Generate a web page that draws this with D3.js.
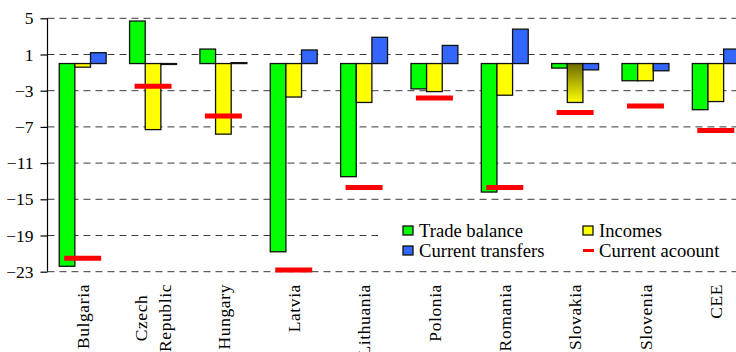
<!DOCTYPE html>
<html>
<head>
<meta charset="utf-8">
<script src="https://cdn.jsdelivr.net/npm/d3@7"></script>
<style>
  body { margin: 0; background: #fff; }
</style>
</head>
<body>
<div id="chart"></div>
<script>
// Data
const countries = [["Bulgaria"], ["Czech", "Republic"], ["Hungary"], ["Latvia"], ["Lithuania"],
  ["Polonia"], ["Romania"], ["Slovakia"], ["Slovenia"], ["CEE"]];
const tradeBalance = [-22.4, 4.7, 1.6, -20.8, -12.5, -2.8, -14.2, -0.5, -1.9, -5.1];
const incomes = [-0.4, -7.3, -7.8, -3.7, -4.3, -3.1, -3.5, -4.3, -1.9, -4.2];
const currentTransfers = [1.2, -0.1, 0.1, 1.5, 2.9, 2.0, 3.8, -0.7, -0.8, 1.6];
const currentAccount = [-21.5, -2.5, -5.8, -22.8, -13.7, -3.8, -13.7, -5.4, -4.7, -7.4];
const yTicks = [5, 1, -3, -7, -11, -15, -19, -23];
const seriesNames = ["Trade balance", "Incomes", "Current transfers", "Current acoount"];

/** Layout */
const width = 736, height = 352;
const plot = { left: 47.5, right: 751, top: 18.3, bottom: 271.7 };
const colors = { trade: "#00ff00", incomes: "#ffff00", transfers: "#3366ff", account: "#ff0000" };
const font = "'Liberation Serif'";
const fontSize = "17.5px";

const svg = d3.select("#chart").append("svg")
  .attr("width", width)
  .attr("height", height)
  .style("display", "block")
  .style("font-family", font);

const defs = svg.append("defs");
// Slovakia's income bar is shaded olive -> yellow in the original
const grad = defs.append("linearGradient")
  .attr("id", "olive-yellow")
  .attr("x1", 0).attr("y1", 0).attr("x2", 0).attr("y2", 1);
grad.append("stop").attr("offset", "0%").attr("stop-color", "#6b6b00");
grad.append("stop").attr("offset", "100%").attr("stop-color", "#ffff00");

const keys = countries.map((d, i) => i);

const x = d3.scaleBand()
  .domain(keys)
  .range([plot.left, plot.right])
  .paddingInner(0.333)
  .paddingOuter(0.1667);

const xSub = d3.scaleBand()
  .domain([0, 1, 2])
  .range([0, x.bandwidth()]);

const y = d3.scaleLinear()
  .domain([-23, 5])
  .range([plot.bottom, plot.top]);

/** Gridlines */
svg.append("g")
  .attr("class", "grid")
  .selectAll("line")
  .data(yTicks)
  .enter()
  .append("line")
  .attr("x1", plot.left)
  .attr("x2", width)
  .attr("y1", d => y(d))
  .attr("y2", d => y(d))
  .attr("stroke", "#3a3a3a")
  .attr("stroke-width", 1)
  .attr("stroke-dasharray", "7,5");

/** Y axis */
const yAxis = d3.axisLeft(y)
  .tickValues(yTicks)
  .tickSize(7)
  .tickPadding(7)
  .tickFormat(d3.format("d"));

const yG = svg.append("g")
  .attr("transform", "translate(" + plot.left + ",0)")
  .call(yAxis)
  .attr("font-family", null)
  .attr("font-size", null);
yG.select("path.domain")
  .attr("d", "M0," + y(5) + "V" + y(-23))
  .attr("stroke", "#000")
  .attr("stroke-width", 1.2);
yG.selectAll(".tick line").attr("stroke", "#000").attr("stroke-width", 1.2);
yG.selectAll(".tick text")
  .attr("fill", "#000")
  .style("font-family", font)
  .style("font-size", fontSize);

/** Bars */
const barSeries = [
  { values: tradeBalance, color: colors.trade },
  { values: incomes, color: colors.incomes },
  { values: currentTransfers, color: colors.transfers }
];

const bars = svg.append("g").attr("class", "bars");
barSeries.forEach((s, si) => {
  bars.append("g")
    .selectAll("rect")
    .data(s.values)
    .enter()
    .append("rect")
    .attr("x", (d, i) => x(i) + xSub(si))
    .attr("width", xSub.bandwidth())
    .attr("y", d => y(Math.max(0, d)))
    .attr("height", d => Math.abs(y(d) - y(0)))
    .attr("fill", (d, i) => (si === 1 && i === 7) ? "url(#olive-yellow)" : s.color)
    .attr("stroke", "#111")
    .attr("stroke-width", 1.3);
});

/** Current account markers */
svg.append("g")
  .attr("class", "account")
  .selectAll("line")
  .data(currentAccount)
  .enter()
  .append("line")
  .attr("x1", (d, i) => x(i) + x.bandwidth() / 2 - 18.5)
  .attr("x2", (d, i) => x(i) + x.bandwidth() / 2 + 18.5)
  .attr("y1", d => y(d))
  .attr("y2", d => y(d))
  .attr("stroke", colors.account)
  .attr("stroke-width", 5);

/** Category labels, rotated */
const labelTop = 284;
const labels = svg.append("g")
  .attr("class", "x-labels");

countries.forEach((lines, i) => {
  const cx = x(i) + x.bandwidth() / 2;
  const g = labels.append("g");
  const texts = lines.map((line, li) => {
    const off = (li - (lines.length - 1) / 2) * 24;
    return g.append("text")
      .attr("text-anchor", "middle")
      .attr("dy", "0.35em")
      .attr("fill", "#000")
      .attr("data-off", off)
      .style("font-family", font)
      .style("font-size", fontSize)
      .style("letter-spacing", "0.6px")
      .text(line);
  });
  const maxLen = d3.max(texts, t => t.node().getComputedTextLength());
  texts.forEach(t => {
    const off = +t.attr("data-off");
    t.attr("transform", "translate(" + (cx + off) + "," + (labelTop + maxLen / 2) + ") rotate(-90)");
  });
});

/** Legend */
const legend = svg.append("g").attr("class", "legend");
legend.append("rect")
  .attr("x", 378).attr("y", 214)
  .attr("width", width - 378).attr("height", 50)
  .attr("fill", "#fff");

const legendItems = [
  { name: seriesNames[0], color: colors.trade, type: "box", x: 403, y: 230.5 },
  { name: seriesNames[1], color: colors.incomes, type: "box", x: 583, y: 230.5 },
  { name: seriesNames[2], color: colors.transfers, type: "box", x: 403, y: 250.5 },
  { name: seriesNames[3], color: colors.account, type: "line", x: 583, y: 250.5 }
];

const li = legend.selectAll("g.item")
  .data(legendItems)
  .enter()
  .append("g")
  .attr("class", "item")
  .attr("transform", d => "translate(" + d.x + "," + d.y + ")");

li.filter(d => d.type === "box")
  .append("rect")
  .attr("x", 0).attr("y", -4.5)
  .attr("width", 10).attr("height", 9)
  .attr("fill", d => d.color)
  .attr("stroke", "#111")
  .attr("stroke-width", 1.3);

li.filter(d => d.type === "line")
  .append("line")
  .attr("x1", 0).attr("x2", 11)
  .attr("y1", 0).attr("y2", 0)
  .attr("stroke", d => d.color)
  .attr("stroke-width", 3);

li.append("text")
  .attr("x", 16)
  .attr("dy", "0.35em")
  .attr("fill", "#000")
  .style("font-family", font)
  .style("font-size", "18.6px")
  .text(d => d.name);
</script>
</body>
</html>
